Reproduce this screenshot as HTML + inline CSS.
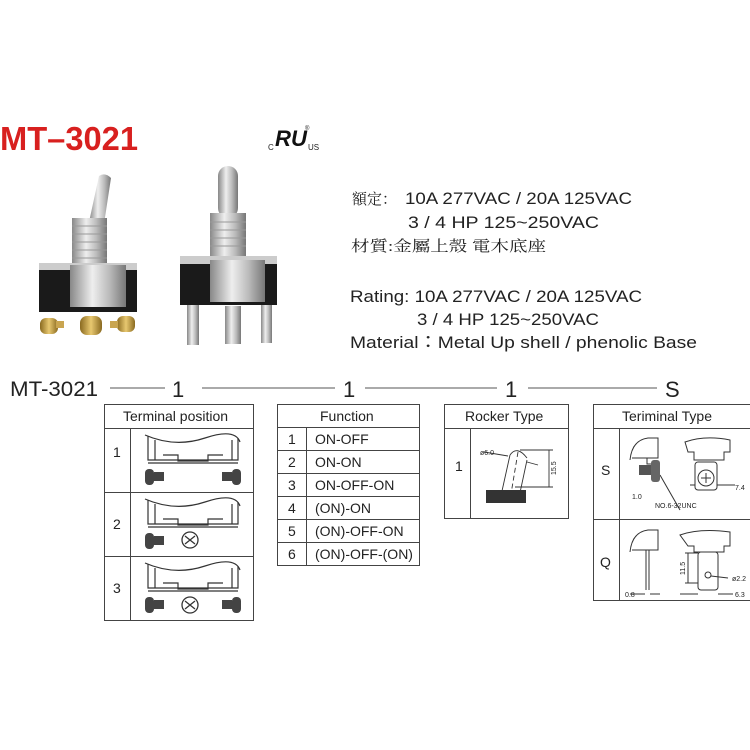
<!DOCTYPE html>
<html><head><meta charset="utf-8"><style>
html,body{margin:0;padding:0;background:#fff;}
svg{display:block;}
text{font-family:"Liberation Sans","Noto Sans CJK TC",sans-serif;fill:#222;}
.ser{font-family:"Liberation Serif","Noto Serif CJK SC",serif;}
</style></head><body>
<svg width="750" height="750" viewBox="0 0 750 750" xmlns="http://www.w3.org/2000/svg">
<defs>
<linearGradient id="silv" x1="0" x2="1"><stop offset="0" stop-color="#888"/><stop offset=".4" stop-color="#eee"/><stop offset=".7" stop-color="#bbb"/><stop offset="1" stop-color="#777"/></linearGradient>
<linearGradient id="gold" x1="0" x2="1"><stop offset="0" stop-color="#8a6a20"/><stop offset=".5" stop-color="#e8c870"/><stop offset="1" stop-color="#8a6a20"/></linearGradient>
</defs>
<!-- title -->
<text x="0" y="150" font-size="33" font-weight="bold" style="fill:#d8201f" textLength="138" lengthAdjust="spacingAndGlyphs">MT–3021</text>
<!-- UL -->
<text x="268" y="150" font-size="8">C</text>
<text x="275" y="146" font-size="22" font-weight="bold" font-style="italic" style="fill:#111" textLength="32" lengthAdjust="spacingAndGlyphs">RU</text>
<text x="305" y="130" font-size="6">®</text>
<text x="308" y="150" font-size="8">US</text>

<!-- left switch -->
<path d="M89 222 L99 176 Q105 172 111 178 L104 224z" fill="url(#silv)"/>
<rect x="72" y="218" width="35" height="48" fill="url(#silv)"/>
<g stroke="#999" stroke-width="1"><line x1="72" y1="226" x2="107" y2="226"/><line x1="72" y1="234" x2="107" y2="234"/><line x1="72" y1="242" x2="107" y2="242"/><line x1="72" y1="250" x2="107" y2="250"/><line x1="72" y1="258" x2="107" y2="258"/></g>
<rect x="39" y="263" width="98" height="8" fill="#ccc"/>
<rect x="39" y="270" width="98" height="42" fill="#1a1a1a"/>
<rect x="70" y="265" width="56" height="42" fill="url(#silv)"/>
<rect x="40" y="318" width="18" height="16" rx="6" fill="url(#gold)"/>
<rect x="80" y="316" width="22" height="19" rx="7" fill="url(#gold)"/>
<rect x="117" y="316" width="18" height="16" rx="6" fill="url(#gold)"/>
<rect x="56" y="321" width="8" height="7" fill="#c9a550"/>
<rect x="110" y="321" width="8" height="7" fill="#c9a550"/>
<!-- right switch -->
<rect x="218" y="166" width="20" height="52" rx="10" fill="url(#silv)"/>
<rect x="210" y="213" width="36" height="47" fill="url(#silv)"/>
<g stroke="#999" stroke-width="1"><line x1="210" y1="222" x2="246" y2="222"/><line x1="210" y1="230" x2="246" y2="230"/><line x1="210" y1="238" x2="246" y2="238"/><line x1="210" y1="246" x2="246" y2="246"/></g>
<rect x="180" y="256" width="97" height="9" fill="#ccc"/>
<rect x="180" y="264" width="97" height="41" fill="#1a1a1a"/>
<rect x="210" y="260" width="55" height="42" fill="url(#silv)"/>
<rect x="187" y="305" width="12" height="40" fill="url(#silv)"/>
<rect x="225" y="306" width="16" height="38" fill="url(#silv)"/>
<rect x="261" y="305" width="11" height="38" fill="url(#silv)"/>

<!-- spec text -->
<text class="ser" x="352" y="204" font-size="15">額定：</text>
<text x="405" y="204" font-size="17" textLength="227" lengthAdjust="spacingAndGlyphs">10A 277VAC / 20A 125VAC</text>
<text x="408" y="228" font-size="17" textLength="191" lengthAdjust="spacingAndGlyphs">3 / 4 HP 125~250VAC</text>
<text class="ser" x="351" y="251" font-size="15" textLength="195" lengthAdjust="spacingAndGlyphs">材質:金屬上殼 電木底座</text>
<text x="350" y="302" font-size="17" textLength="292" lengthAdjust="spacingAndGlyphs">Rating: 10A 277VAC / 20A 125VAC</text>
<text x="417" y="325" font-size="17" textLength="182" lengthAdjust="spacingAndGlyphs">3 / 4 HP 125~250VAC</text>
<text x="350" y="348" font-size="17" textLength="347" lengthAdjust="spacingAndGlyphs">Material：Metal Up shell /  phenolic Base</text>

<!-- code row -->
<text x="10" y="396" font-size="21" textLength="88" lengthAdjust="spacingAndGlyphs">MT-3021</text>
<g stroke="#555" stroke-width="1">
<line x1="110" y1="388" x2="165" y2="388"/><line x1="202" y1="388" x2="335" y2="388"/>
<line x1="365" y1="388" x2="497" y2="388"/><line x1="528" y1="388" x2="657" y2="388"/>
</g>
<text x="172" y="397" font-size="22">1</text>
<text x="343" y="397" font-size="22">1</text>
<text x="505" y="397" font-size="22">1</text>
<text x="665" y="397" font-size="22">S</text>

<g fill="none" stroke="#444" stroke-width="1">
<rect x="104.5" y="404.5" width="149" height="216"/>
<line x1="104" y1="428.5" x2="254" y2="428.5"/><line x1="104" y1="492.5" x2="254" y2="492.5"/><line x1="104" y1="556.5" x2="254" y2="556.5"/>
<line x1="130.5" y1="428" x2="130.5" y2="621"/>
<rect x="277.5" y="404.5" width="142" height="161"/>
<line x1="277" y1="427.5" x2="420" y2="427.5"/><line x1="277" y1="450.5" x2="420" y2="450.5"/><line x1="277" y1="473.5" x2="420" y2="473.5"/><line x1="277" y1="496.5" x2="420" y2="496.5"/><line x1="277" y1="519.5" x2="420" y2="519.5"/><line x1="277" y1="542.5" x2="420" y2="542.5"/>
<line x1="306.5" y1="427" x2="306.5" y2="566"/>
<rect x="444.5" y="404.5" width="124" height="114"/>
<line x1="444" y1="428.5" x2="569" y2="428.5"/><line x1="470.5" y1="428" x2="470.5" y2="519"/>
<rect x="593.5" y="404.5" width="170" height="196"/>
<line x1="593" y1="428.5" x2="750" y2="428.5"/><line x1="593" y1="519.5" x2="750" y2="519.5"/><line x1="619.5" y1="428" x2="619.5" y2="601"/>
</g>
<g font-size="14">
<text x="123" y="421">Terminal position</text>
<text x="320" y="421">Function</text>
<text x="465" y="421">Rocker Type</text>
<text x="622" y="421">Teriminal Type</text>
<text x="113" y="457">1</text><text x="113" y="529">2</text><text x="113" y="593">3</text>
<text x="288" y="444">1</text><text x="315" y="444">ON-OFF</text>
<text x="288" y="467">2</text><text x="315" y="467">ON-ON</text>
<text x="288" y="490">3</text><text x="315" y="490">ON-OFF-ON</text>
<text x="288" y="513">4</text><text x="315" y="513">(ON)-ON</text>
<text x="288" y="536">5</text><text x="315" y="536">(ON)-OFF-ON</text>
<text x="288" y="559">6</text><text x="315" y="559">(ON)-OFF-(ON)</text>
<text x="455" y="471">1</text>
<text x="601" y="475">S</text><text x="600" y="567">Q</text>
</g>

<g fill="none" stroke="#333" stroke-width="1.2">
<g id="tp">
<path d="M145 435 Q175 448 205 438 T240 442"/>
<path d="M148 436v24h90v-22"/><path d="M155 440v20M232 440v20"/>
<path d="M163 455h15v6h30v-6h15"/>
<line x1="148" y1="463" x2="238" y2="463"/>
</g>
<use href="#tp" y="64"/><use href="#tp" y="128"/>
</g>
<g fill="#444">
<rect x="145" y="469" width="9" height="16" rx="4"/><rect x="154" y="472" width="10" height="9"/>
<rect x="232" y="469" width="9" height="16" rx="4"/><rect x="222" y="472" width="10" height="9"/>
<rect x="145" y="533" width="9" height="16" rx="4"/><rect x="154" y="536" width="10" height="9"/>
<rect x="145" y="597" width="9" height="16" rx="4"/><rect x="154" y="600" width="10" height="9"/>
<rect x="232" y="597" width="9" height="16" rx="4"/><rect x="222" y="600" width="10" height="9"/>
</g>
<g fill="none" stroke="#333" stroke-width="1.3">
<circle cx="190" cy="540" r="8"/><path d="M185 536l10 8M195 536l-10 8"/>
<circle cx="190" cy="605" r="8"/><path d="M185 601l10 8M195 601l-10 8"/>
</g>

<g fill="none" stroke="#333" stroke-width="0.9">
<path d="M510 455 L500 500 M527 460 L518 502"/>
<path d="M510 455 Q517 445 527 458"/>
<line x1="518" y1="452" x2="510" y2="500" stroke-dasharray="5,3"/>
<line x1="520" y1="450" x2="553" y2="450"/><line x1="515" y1="487" x2="553" y2="487"/>
<line x1="549" y1="450" x2="549" y2="487"/>
<line x1="484" y1="452" x2="508" y2="456"/><line x1="527" y1="462" x2="538" y2="465"/>
</g>
<rect x="486" y="490" width="40" height="13" fill="#333"/>
<text x="480" y="455" font-size="7">ø6.0</text>
<text x="556" y="475" font-size="7" transform="rotate(-90 556 475)">15.5</text>

<g fill="none" stroke="#333" stroke-width="1">
<path d="M630 460 Q632 440 648 438h10v20h-26"/><path d="M647 458v6h8"/>
<path d="M685 442 Q705 435 730 440v12h-6v8h-30v-8h-6z"/>
<rect x="695" y="462" width="22" height="28" rx="3"/><circle cx="706" cy="478" r="8"/><path d="M701 478h10M706 473v10"/>
<line x1="690" y1="485" x2="695" y2="485"/><line x1="717" y1="485" x2="735" y2="485"/>
<path d="M660 475 L680 510"/>
<path d="M630 552 Q632 532 648 530h10v20h-26"/><line x1="646" y1="550" x2="646" y2="590"/><line x1="649" y1="550" x2="649" y2="590"/>
<path d="M680 535 Q700 528 730 532v14h-6v6h-30v-6h-6z"/>
<rect x="698" y="552" width="20" height="38" rx="3"/><circle cx="708" cy="575" r="3"/>
<line x1="685" y1="553" x2="698" y2="553"/><line x1="685" y1="583" x2="698" y2="583"/><line x1="688" y1="553" x2="688" y2="583"/>
<line x1="711" y1="576" x2="728" y2="578"/>
<line x1="680" y1="594" x2="698" y2="594"/><line x1="718" y1="594" x2="733" y2="594"/>
<line x1="630" y1="594" x2="645" y2="594"/><line x1="650" y1="594" x2="660" y2="594"/>
</g>
<rect x="639" y="465" width="12" height="10" fill="#555"/><rect x="651" y="460" width="9" height="22" rx="3" fill="#666"/>
<g font-size="7">
<text x="632" y="499">1.0</text><text x="655" y="508">NO.6-32UNC</text><text x="735" y="490">7.4</text>
<text x="732" y="581">ø2.2</text><text x="625" y="597">0.8</text><text x="735" y="597">6.3</text>
<text x="685" y="575" transform="rotate(-90 685 575)">11.5</text>
</g>
</svg>
</body></html>
